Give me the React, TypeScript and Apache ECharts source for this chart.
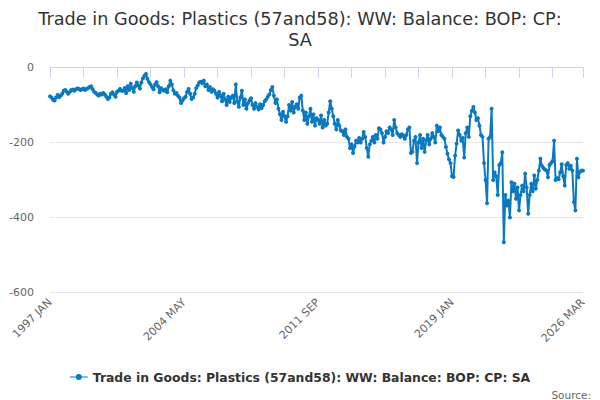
import React, { useEffect, useRef } from "react";
import * as echarts from "echarts";

const MONTHS = ["JAN", "FEB", "MAR", "APR", "MAY", "JUN", "JUL", "AUG", "SEP", "OCT", "NOV", "DEC"];
const START_YEAR = 1997;
const END_YEAR = 2026;
const END_MONTHS = 3;

const categories: string[] = [];
for (let y = START_YEAR; y <= END_YEAR; y++) {
  const n = y === END_YEAR ? END_MONTHS : 12;
  for (let m = 0; m < n; m++) categories.push(`${y} ${MONTHS[m]}`);
}

const v1997 = [-77, -80, -86, -88, -80, -73, -79, -75, -70, -62, -60, -65];
const v1998 = [-70, -65, -60, -59, -62, -58, -56, -57, -60, -58, -56, -60];
const v1999 = [-57, -55, -52, -50, -58, -65, -68, -72, -75, -70, -72, -68];
const v2000 = [-72, -78, -84, -80, -70, -66, -72, -78, -65, -62, -57, -62];
const v2001 = [-62, -55, -68, -50, -60, -43, -55, -65, -50, -40, -48, -56];
const v2002 = [-40, -29, -22, -17, -30, -39, -45, -52, -58, -45, -39, -50];
const v2003 = [-66, -55, -60, -62, -58, -66, -50, -35, -45, -61, -70, -68];
const v2004 = [-75, -80, -95, -88, -82, -78, -65, -57, -70, -84, -80, -70];
const v2005 = [-55, -48, -40, -38, -42, -35, -50, -45, -60, -52, -65, -58];
const v2006 = [-62, -70, -80, -65, -75, -90, -70, -85, -100, -78, -92, -80];
const v2007 = [-75, -95, -45, -90, -105, -80, -62, -100, -85, -110, -95, -88];
const v2008 = [-82, -100, -110, -95, -105, -112, -98, -108, -100, -90, -85, -78];
const v2009 = [-72, -60, -52, -75, -95, -85, -110, -125, -140, -118, -130, -145];
const v2010 = [-130, -100, -115, -92, -120, -105, -98, -110, -80, -75, -115, -140];
const v2011 = [-120, -150, -130, -110, -145, -125, -155, -135, -140, -150, -128, -160];
const v2012 = [-140, -155, -150, -120, -90, -110, -130, -150, -165, -140, -155, -168];
const v2013 = [-170, -180, -165, -185, -190, -215, -205, -228, -210, -195, -200, -188];
const v2014 = [-200, -190, -172, -185, -215, -238, -205, -195, -185, -200, -180, -190];
const v2015 = [-162, -165, -175, -200, -185, -170, -175, -160, -165, -180, -140, -160];
const v2016 = [-175, -180, -185, -178, -182, -190, -180, -165, -160, -228, -225, -195];
const v2017 = [-185, -255, -200, -180, -215, -190, -225, -195, -180, -205, -190, -175];
const v2018 = [-185, -200, -155, -170, -160, -180, -185, -190, -212, -230, -245, -255];
const v2019 = [-290, -292, -235, -203, -168, -180, -195, -188, -240, -175, -160, -185];
const v2020 = [-130, -115, -105, -120, -140, -135, -155, -180, -185, -255, -300, -362];
const v2021 = [-190, -185, -110, -300, -280, -290, -340, -260, -255, -226, -466, -340];
const v2022 = [-368, -355, -400, -306, -330, -310, -350, -320, -381, -340, -315, -330];
const v2023 = [-283, -320, -390, -340, -310, -330, -288, -323, -300, -275, -243, -262];
const v2024 = [-268, -272, -275, -293, -260, -255, -250, -195, -300, -295, -298, -280];
const v2025 = [-258, -290, -315, -260, -255, -270, -262, -275, -359, -381, -243, -293];
const v2026 = [-278, -275, -275];

const values: number[] = [
  ...v1997, ...v1998, ...v1999, ...v2000, ...v2001, ...v2002, ...v2003, ...v2004,
  ...v2005, ...v2006, ...v2007, ...v2008, ...v2009, ...v2010, ...v2011, ...v2012,
  ...v2013, ...v2014, ...v2015, ...v2016, ...v2017, ...v2018, ...v2019, ...v2020,
  ...v2021, ...v2022, ...v2023, ...v2024, ...v2025, ...v2026,
];

const SERIES_NAME = "Trade in Goods: Plastics (57and58): WW: Balance: BOP: CP: SA";
const TITLE = "Trade in Goods: Plastics (57and58): WW: Balance: BOP: CP:\nSA";
const FONT = "DejaVu Sans";

export default function App() {
  const ref = useRef<HTMLDivElement>(null);
  useEffect(() => {
    if (!ref.current) return;
    const chart = echarts.init(ref.current, undefined, { renderer: "svg" });
    const last = categories.length - 1;
    chart.setOption({
      animation: false,
      textStyle: { fontFamily: FONT },
      title: {
        text: TITLE,
        left: "center",
        top: 3,
        textStyle: { fontSize: 17.7, fontWeight: "normal", color: "#333333", lineHeight: 21, fontFamily: FONT },
      },
      legend: {
        top: 366,
        left: "center",
        itemWidth: 18,
        itemHeight: 8,
        itemGap: 5,
        textStyle: { fontSize: 12.4, fontWeight: "bold", color: "#333333", fontFamily: FONT },
        data: [{ name: SERIES_NAME, icon: "path://M0,3.5 L18,3.5 L18,4.5 L0,4.5 Z M9,1 A3,3 0 1 1 9,7 A3,3 0 1 1 9,1 Z" }],
      },
      graphic: [
        {
          type: "text",
          right: 9,
          bottom: 0,
          style: { text: "Source:", fontSize: 10.5, fill: "#666666", fontFamily: FONT },
        },
      ],
      grid: { left: 50, right: 17, top: 67.5, bottom: 107.5, containLabel: false },
      xAxis: {
        type: "category",
        data: categories,
        boundaryGap: false,
        axisLine: { lineStyle: { color: "#ccd6eb" } },
        axisTick: {
          show: true,
          length: 10,
          lineStyle: { color: "#ccd6eb" },
          interval: (i: number) => i % 22 === 0 || i === last,
        },
        axisLabel: {
          interval: (i: number) => i % 88 === 0 || i === last,
          rotate: 45,
          color: "#666666",
          fontSize: 11,
          margin: 8,
          fontFamily: FONT,
        },
        splitLine: { show: false },
      },
      yAxis: {
        type: "value",
        min: -600,
        max: 0,
        interval: 200,
        axisLine: { show: false },
        axisTick: { show: false },
        axisLabel: { color: "#666666", fontSize: 11, margin: 16, fontFamily: FONT },
        splitLine: { lineStyle: { color: "#e6e6e6" } },
      },
      series: [
        {
          name: SERIES_NAME,
          type: "line",
          data: values,
          symbol: "circle",
          symbolSize: 4,
          showSymbol: true,
          showAllSymbol: true,
          itemStyle: { color: "#0b79bf" },
          lineStyle: { width: 2, color: "#0b79bf" },
        },
      ],
    });
    return () => chart.dispose();
  }, []);
  return <div ref={ref} style={{ position: "absolute", left: 0, top: 0, width: 600, height: 400 }} />;
}
